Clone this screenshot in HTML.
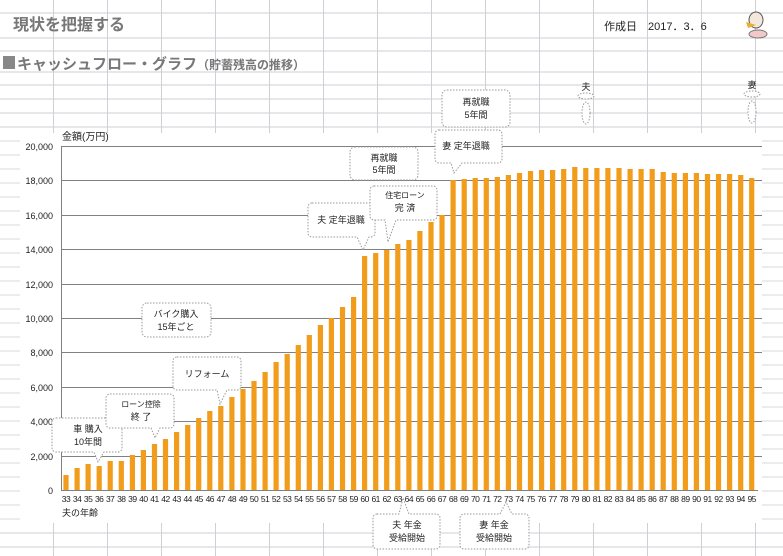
<!DOCTYPE html>
<html><head><meta charset="utf-8"><style>
body{margin:0;width:783px;height:556px;overflow:hidden;background:#fff;font-family:"Liberation Sans","Noto Sans CJK JP",sans-serif;}
</style></head><body>
<svg width="783" height="556" viewBox="0 0 783 556" xmlns="http://www.w3.org/2000/svg" style="position:absolute;left:0;top:0">
<g stroke="#cfcfd6" stroke-width="1">
<line x1="0" y1="13" x2="783" y2="13"/><line x1="0" y1="38" x2="783" y2="38"/><line x1="0" y1="51" x2="783" y2="51"/>
<line x1="0" y1="72" x2="783" y2="72"/><line x1="0" y1="85" x2="783" y2="85"/><line x1="0" y1="99" x2="783" y2="99"/>
<line x1="0" y1="113" x2="783" y2="113"/><line x1="0" y1="127" x2="783" y2="127"/>
<line x1="0" y1="533" x2="783" y2="533"/><line x1="0" y1="547" x2="783" y2="547"/>
<line x1="53.5" y1="0" x2="53.5" y2="556"/><line x1="107.5" y1="0" x2="107.5" y2="556"/><line x1="161.5" y1="0" x2="161.5" y2="556"/>
<line x1="215.5" y1="0" x2="215.5" y2="556"/><line x1="269.5" y1="0" x2="269.5" y2="556"/><line x1="323.5" y1="0" x2="323.5" y2="556"/>
<line x1="377.5" y1="0" x2="377.5" y2="556"/><line x1="431.5" y1="0" x2="431.5" y2="556"/><line x1="485.5" y1="0" x2="485.5" y2="556"/>
<line x1="539.5" y1="0" x2="539.5" y2="556"/><line x1="593.5" y1="0" x2="593.5" y2="556"/><line x1="647.5" y1="0" x2="647.5" y2="556"/>
<line x1="701.5" y1="0" x2="701.5" y2="556"/><line x1="755.5" y1="0" x2="755.5" y2="556"/>
</g>
<g stroke="#d8d8de">
<line x1="0" y1="141" x2="783" y2="141"/><line x1="0" y1="155" x2="783" y2="155"/><line x1="0" y1="169" x2="783" y2="169"/>
<line x1="0" y1="183" x2="783" y2="183"/><line x1="0" y1="197" x2="783" y2="197"/><line x1="0" y1="211" x2="783" y2="211"/>
<line x1="0" y1="225" x2="783" y2="225"/><line x1="0" y1="239" x2="783" y2="239"/><line x1="0" y1="253" x2="783" y2="253"/>
<line x1="0" y1="267" x2="783" y2="267"/><line x1="0" y1="281" x2="783" y2="281"/><line x1="0" y1="295" x2="783" y2="295"/>
<line x1="0" y1="309" x2="783" y2="309"/><line x1="0" y1="323" x2="783" y2="323"/><line x1="0" y1="337" x2="783" y2="337"/>
<line x1="0" y1="351" x2="783" y2="351"/><line x1="0" y1="365" x2="783" y2="365"/><line x1="0" y1="379" x2="783" y2="379"/>
<line x1="0" y1="393" x2="783" y2="393"/><line x1="0" y1="407" x2="783" y2="407"/><line x1="0" y1="421" x2="783" y2="421"/>
<line x1="0" y1="435" x2="783" y2="435"/><line x1="0" y1="449" x2="783" y2="449"/><line x1="0" y1="463" x2="783" y2="463"/>
<line x1="0" y1="477" x2="783" y2="477"/><line x1="0" y1="491" x2="783" y2="491"/><line x1="0" y1="505" x2="783" y2="505"/><line x1="0" y1="519" x2="783" y2="519"/>
</g>
<rect x="20" y="133" width="742" height="390" fill="#fff"/>
<text x="13" y="30" font-size="16" font-weight="bold" fill="#777">現状を把握する</text>
<rect x="3" y="56" width="12" height="13" fill="#888"/>
<text x="17" y="69" font-size="15" font-weight="bold" fill="#777">キャッシュフロー・グラフ<tspan font-size="12">（貯蓄残高の推移）</tspan></text>
<text x="604" y="30" font-size="11" fill="#222">作成日　2017．3．6</text>
<g transform="translate(742,8)"><ellipse cx="14" cy="12" rx="7" ry="8" fill="#f4e8dc" stroke="#555"/><path d="M4 14 L14 17 L6 20Z" fill="#e8b030"/><ellipse cx="16" cy="26" rx="9" ry="4" fill="#f2c8c8" stroke="#777"/></g>
<text x="62" y="140" font-size="10" fill="#222">金額(万円)</text>
<g stroke="#808080" stroke-width="1">
<line x1="61" y1="146.5" x2="762" y2="146.5"/><line x1="61" y1="180.5" x2="762" y2="180.5"/><line x1="61" y1="215.5" x2="762" y2="215.5"/>
<line x1="61" y1="249.5" x2="762" y2="249.5"/><line x1="61" y1="284.5" x2="762" y2="284.5"/><line x1="61" y1="318.5" x2="762" y2="318.5"/>
<line x1="61" y1="352.5" x2="762" y2="352.5"/><line x1="61" y1="387.5" x2="762" y2="387.5"/><line x1="61" y1="421.5" x2="762" y2="421.5"/>
<line x1="61" y1="456.5" x2="762" y2="456.5"/><line x1="61" y1="490.5" x2="758" y2="490.5"/><line x1="61.5" y1="146" x2="61.5" y2="490"/>
</g>
<g font-size="9" fill="#222" text-anchor="end">
<text x="53" y="150">20,000</text><text x="53" y="184">18,000</text><text x="53" y="219">16,000</text><text x="53" y="253">14,000</text>
<text x="53" y="288">12,000</text><text x="53" y="322">10,000</text><text x="53" y="356">8,000</text><text x="53" y="391">6,000</text>
<text x="53" y="425">4,000</text><text x="53" y="460">2,000</text><text x="53" y="494">0</text>
</g>
<path fill="#f29c1c" d="
M63.4 475h5.2V490h-5.2Z M74.5 468h5.2V490h-5.2Z M85.5 464h5.2V490h-5.2Z M96.6 466h5.2V490h-5.2Z M107.6 461h5.2V490h-5.2Z
M118.7 461h5.2V490h-5.2Z M129.8 455h5.2V490h-5.2Z M140.8 450h5.2V490h-5.2Z M151.9 444h5.2V490h-5.2Z M162.9 439h5.2V490h-5.2Z
M174.0 432h5.2V490h-5.2Z M185.1 425h5.2V490h-5.2Z M196.1 418h5.2V490h-5.2Z M207.2 411h5.2V490h-5.2Z M218.2 406h5.2V490h-5.2Z
M229.3 397h5.2V490h-5.2Z M240.4 389h5.2V490h-5.2Z M251.4 381h5.2V490h-5.2Z M262.5 372h5.2V490h-5.2Z M273.5 362h5.2V490h-5.2Z
M284.6 354h5.2V490h-5.2Z M295.7 345h5.2V490h-5.2Z M306.7 335h5.2V490h-5.2Z M317.8 325h5.2V490h-5.2Z M328.8 318h5.2V490h-5.2Z
M339.9 307h5.2V490h-5.2Z M351.0 297h5.2V490h-5.2Z M362.0 256h5.2V490h-5.2Z M373.1 253h5.2V490h-5.2Z M384.1 250h5.2V490h-5.2Z
M395.2 244h5.2V490h-5.2Z M406.3 240h5.2V490h-5.2Z M417.3 231h5.2V490h-5.2Z M428.4 222h5.2V490h-5.2Z M439.4 215h5.2V490h-5.2Z
M450.5 180h5.2V490h-5.2Z M461.6 179h5.2V490h-5.2Z M472.6 178h5.2V490h-5.2Z M483.7 178h5.2V490h-5.2Z M494.7 177h5.2V490h-5.2Z
M505.8 175h5.2V490h-5.2Z M516.9 173h5.2V490h-5.2Z M527.9 171h5.2V490h-5.2Z M539.0 170h5.2V490h-5.2Z M550.0 170h5.2V490h-5.2Z
M561.1 169h5.2V490h-5.2Z M572.2 167h5.2V490h-5.2Z M583.2 168h5.2V490h-5.2Z M594.3 168h5.2V490h-5.2Z M605.3 168h5.2V490h-5.2Z
M616.4 168h5.2V490h-5.2Z M627.5 169h5.2V490h-5.2Z M638.5 169h5.2V490h-5.2Z M649.6 169h5.2V490h-5.2Z M660.6 172h5.2V490h-5.2Z
M671.7 173h5.2V490h-5.2Z M682.8 173h5.2V490h-5.2Z M693.8 173h5.2V490h-5.2Z M704.9 174h5.2V490h-5.2Z M715.9 174h5.2V490h-5.2Z
M727.0 174h5.2V490h-5.2Z M738.1 175h5.2V490h-5.2Z M749.1 178h5.2V490h-5.2Z"/>
<g font-size="8.5" fill="#222" text-anchor="middle" letter-spacing="-0.5">
<text x="66.0" y="502">33</text><text x="77.1" y="502">34</text><text x="88.1" y="502">35</text><text x="99.2" y="502">36</text><text x="110.2" y="502">37</text>
<text x="121.3" y="502">38</text><text x="132.4" y="502">39</text><text x="143.4" y="502">40</text><text x="154.5" y="502">41</text><text x="165.5" y="502">42</text>
<text x="176.6" y="502">43</text><text x="187.7" y="502">44</text><text x="198.7" y="502">45</text><text x="209.8" y="502">46</text><text x="220.8" y="502">47</text>
<text x="231.9" y="502">48</text><text x="243.0" y="502">49</text><text x="254.0" y="502">50</text><text x="265.1" y="502">51</text><text x="276.1" y="502">52</text>
<text x="287.2" y="502">53</text><text x="298.3" y="502">54</text><text x="309.3" y="502">55</text><text x="320.4" y="502">56</text><text x="331.4" y="502">57</text>
<text x="342.5" y="502">58</text><text x="353.6" y="502">59</text><text x="364.6" y="502">60</text><text x="375.7" y="502">61</text><text x="386.7" y="502">62</text>
<text x="397.8" y="502">63</text><text x="408.9" y="502">64</text><text x="419.9" y="502">65</text><text x="431.0" y="502">66</text><text x="442.0" y="502">67</text>
<text x="453.1" y="502">68</text><text x="464.2" y="502">69</text><text x="475.2" y="502">70</text><text x="486.3" y="502">71</text><text x="497.3" y="502">72</text>
<text x="508.4" y="502">73</text><text x="519.5" y="502">74</text><text x="530.5" y="502">75</text><text x="541.6" y="502">76</text><text x="552.6" y="502">77</text>
<text x="563.7" y="502">78</text><text x="574.8" y="502">79</text><text x="585.8" y="502">80</text><text x="596.9" y="502">81</text><text x="607.9" y="502">82</text>
<text x="619.0" y="502">83</text><text x="630.1" y="502">84</text><text x="641.1" y="502">85</text><text x="652.2" y="502">86</text><text x="663.2" y="502">87</text>
<text x="674.3" y="502">88</text><text x="685.4" y="502">89</text><text x="696.4" y="502">90</text><text x="707.5" y="502">91</text><text x="718.5" y="502">92</text>
<text x="729.6" y="502">93</text><text x="740.7" y="502">94</text><text x="751.7" y="502">95</text>
</g>
<text x="62" y="516" font-size="9" fill="#222">夫の年齢</text>
<g fill="#fff" stroke="#999" stroke-dasharray="1.5,1.5" stroke-width="1">
<path d="M56 418 h62 a4 4 0 0 1 4 4 v26 a4 4 0 0 1 -4 4 h-14 l-6 10 l-4 -10 h-38 a4 4 0 0 1 -4 -4 v-26 a4 4 0 0 1 4 -4z"/>
<path d="M110 394 h60 a4 4 0 0 1 4 4 v26 a4 4 0 0 1 -4 4 h-10 l-5 10 l-4 -10 h-41 a4 4 0 0 1 -4 -4 v-26 a4 4 0 0 1 4 -4z"/>
<path d="M177 357 h60 a4 4 0 0 1 4 4 v25 a4 4 0 0 1 -4 4 h-10 l-7 14 l-3 -14 h-40 a4 4 0 0 1 -4 -4 v-25 a4 4 0 0 1 4 -4z"/>
<rect x="142" y="303" width="69" height="34" rx="5"/>
<path d="M312 203 h59 a4 4 0 0 1 4 4 v26 a4 4 0 0 1 -4 4 h-2 l-6 13 l-6 -13 h-45 a4 4 0 0 1 -4 -4 v-26 a4 4 0 0 1 4 -4z"/>
<rect x="350" y="147" width="68" height="33" rx="5"/>
<path d="M374 186 h59 a4 4 0 0 1 4 4 v26 a4 4 0 0 1 -4 4 h-37 l-8 22 l-3 -22 h-11 a4 4 0 0 1 -4 -4 v-26 a4 4 0 0 1 4 -4z"/>
<rect x="442" y="90" width="68" height="37" rx="5"/>
<path d="M439 130 h59 a4 4 0 0 1 4 4 v25 a4 4 0 0 1 -4 4 h-36 l-8 10 l-3 -10 h-12 a4 4 0 0 1 -4 -4 v-25 a4 4 0 0 1 4 -4z"/>
<path d="M377 514 h22 l4 -16 l6 16 h27 a4 4 0 0 1 4 4 v27 a4 4 0 0 1 -4 4 h-59 a4 4 0 0 1 -4 -4 v-27 a4 4 0 0 1 4 -4z"/>
<path d="M464 514 h36 l6 -12 l6 12 h13 a4 4 0 0 1 4 4 v27 a4 4 0 0 1 -4 4 h-61 a4 4 0 0 1 -4 -4 v-27 a4 4 0 0 1 4 -4z"/>
<ellipse cx="586" cy="96" rx="8" ry="3"/><ellipse cx="586" cy="113" rx="4" ry="11"/>
<ellipse cx="752" cy="94" rx="8" ry="3"/><ellipse cx="752" cy="112" rx="4" ry="11"/>
</g>
<g font-size="9" fill="#222" text-anchor="middle">
<text x="88" y="432">車  購入</text><text x="88" y="445">10年間</text>
<text x="141" y="407" font-size="8">ローン控除</text><text x="141" y="420">終  了</text>
<text x="207" y="377">リフォーム</text>
<text x="176" y="317">バイク購入</text><text x="176" y="330">15年ごと</text>
<text x="341" y="223">夫  定年退職</text>
<text x="384" y="161">再就職</text><text x="384" y="173">5年間</text>
<text x="405" y="198" font-size="8">住宅ローン</text><text x="405" y="211">完  済</text>
<text x="476" y="105">再就職</text><text x="476" y="118">5年間</text>
<text x="466" y="149">妻  定年退職</text>
<text x="407" y="528">夫  年金</text><text x="407" y="541">受給開始</text>
<text x="494" y="528">妻  年金</text><text x="494" y="541">受給開始</text>
<text x="586" y="90">夫</text><text x="752" y="88">妻</text>
</g>
</svg>
</body></html>
